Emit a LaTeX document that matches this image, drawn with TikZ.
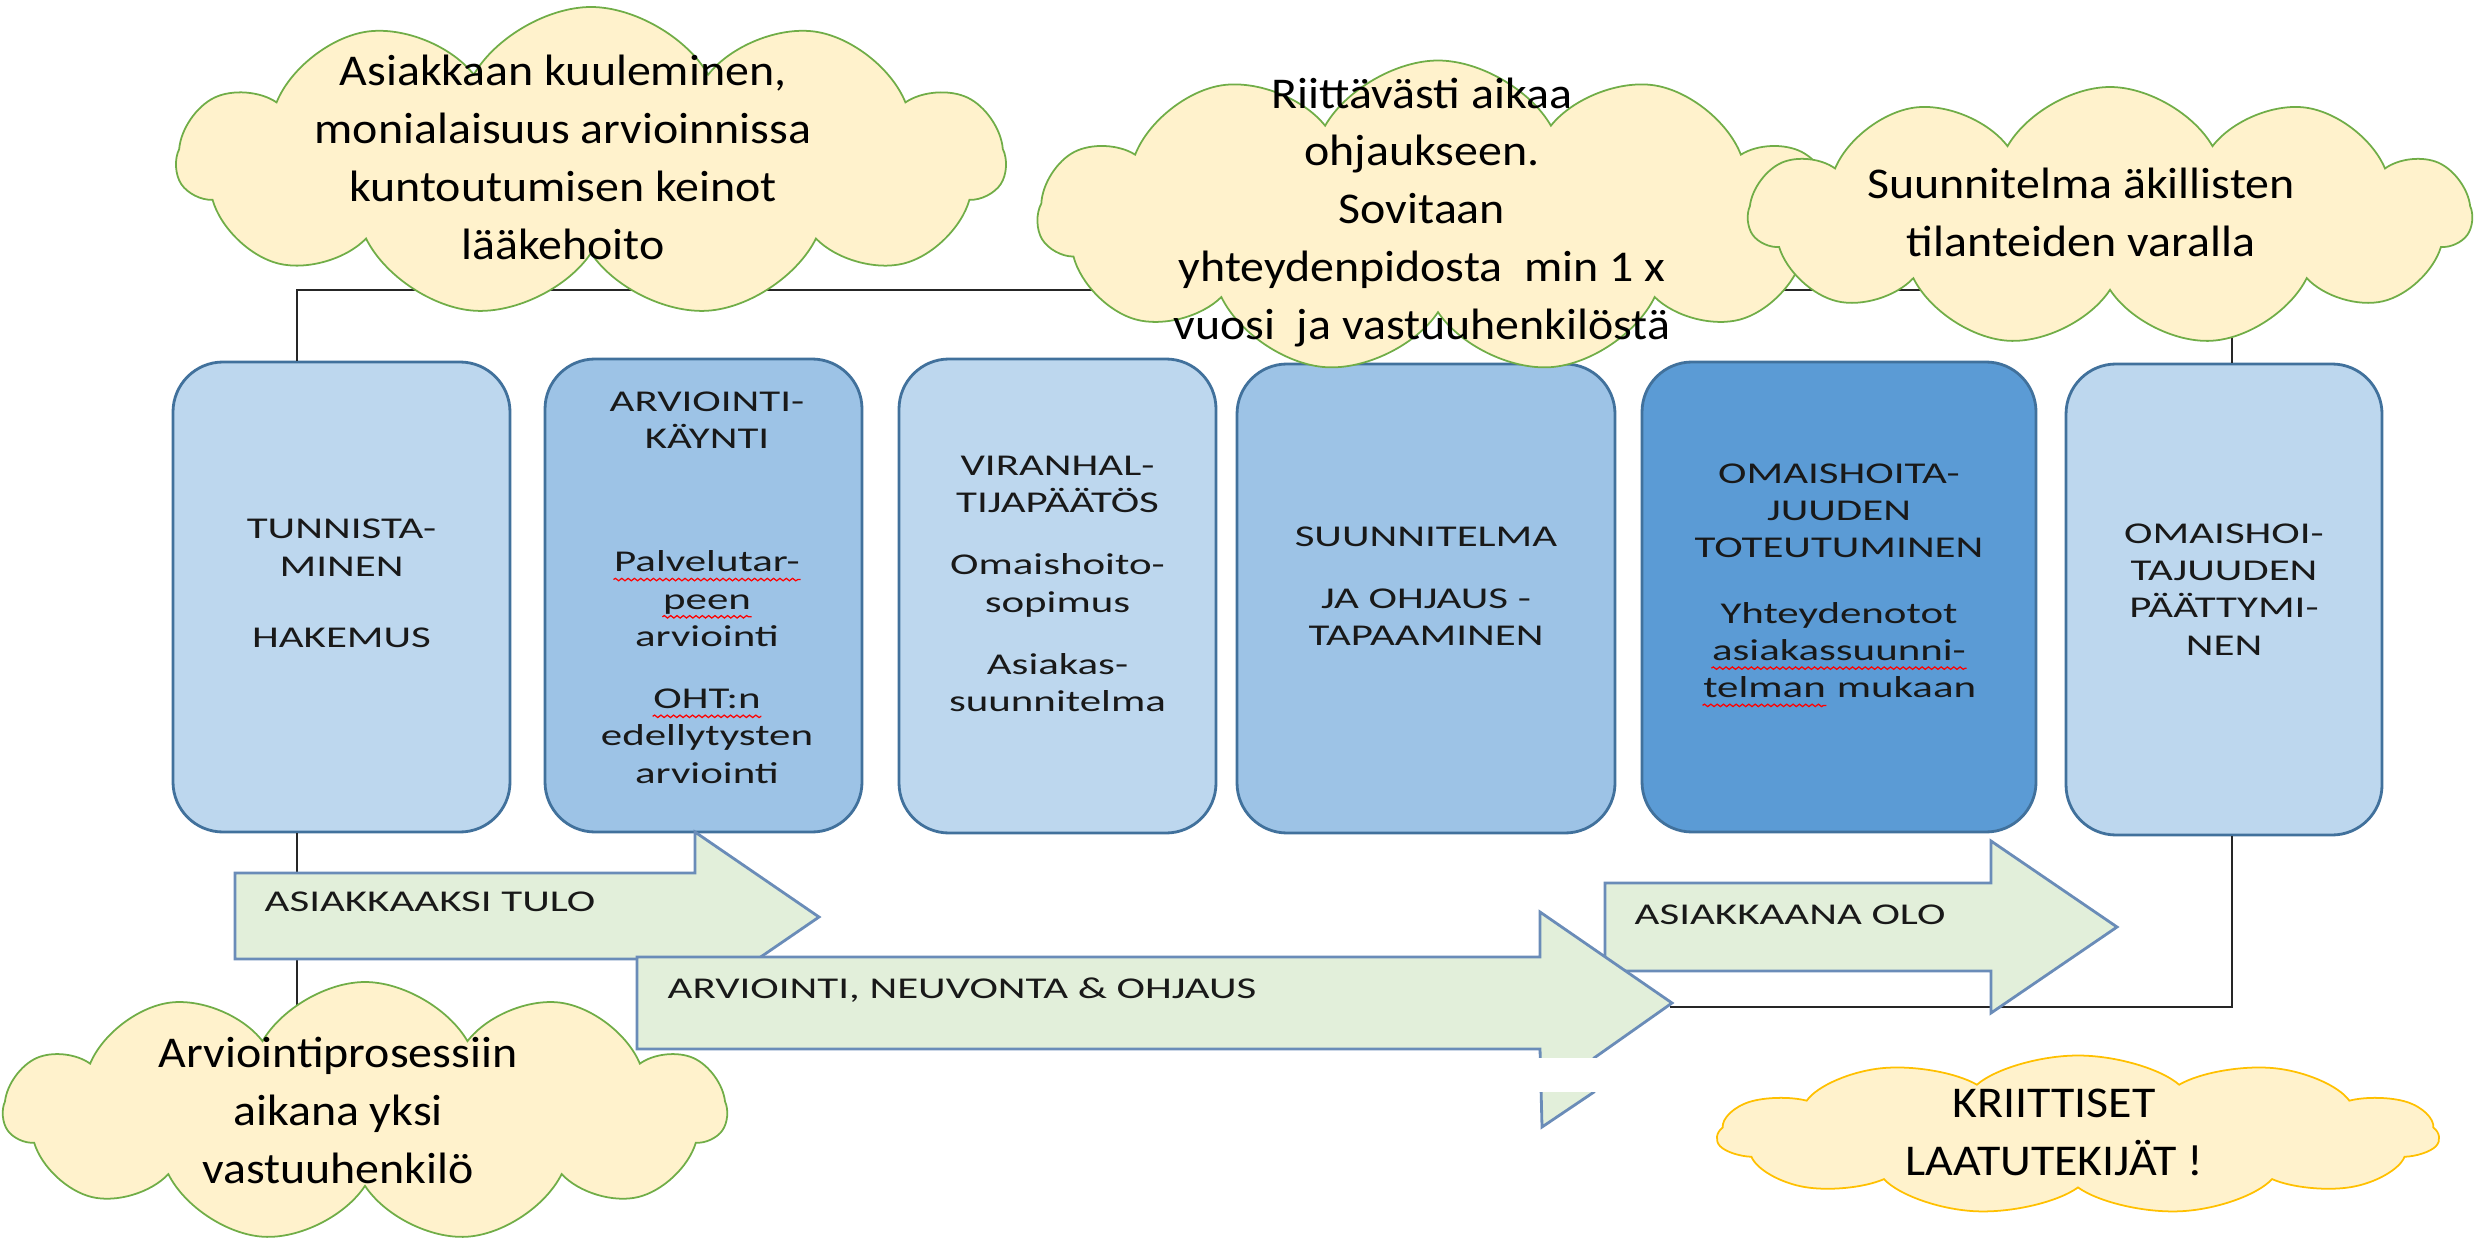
\documentclass[tikz,border=0pt]{standalone}
\usepackage{fontspec}
\setmainfont{Carlito}
\newfontfamily\boxfont[FakeStretch=1.42]{Carlito}
\newfontfamily\cloudfont[FakeStretch=1.09]{Carlito}
\usepackage{tikz}
\usetikzlibrary{shapes.symbols, decorations.pathmorphing}
\usepackage{xcolor}
\definecolor{boxline}{HTML}{41719C}
\definecolor{phaselight}{HTML}{BDD7EE}
\definecolor{phasemid}{HTML}{9DC3E6}
\definecolor{phasedark}{HTML}{5B9BD5}
\definecolor{flowfill}{HTML}{E2EFDA}
\definecolor{flowline}{HTML}{6A8CB8}
\definecolor{bubblefill}{HTML}{FFF2CC}
\definecolor{bubbleline}{HTML}{70AD47}
\definecolor{bubblegold}{HTML}{FFC000}
\definecolor{linkline}{HTML}{262626}
\newcommand{\spellwave}[1]{\tikz[baseline=(w.base), x=1cm, y=1cm]{\node[inner sep=0pt] (w) {#1};
    \draw[red, line width=0.35pt, decorate, decoration={snake, amplitude=0.35pt, segment length=1.8pt}]
        ([yshift=-2.2pt]w.base west) -- ([yshift=-2.2pt]w.base east);}}
\tikzset{
  phase/.style={
    rectangle,
    rounded corners=0.5cm,
    draw=boxline,
    line width=0.8pt,
    inner sep=0pt
    },
  phasetext/.style={
    align=center,
    inner sep=0pt,
    text=black!90,
    font=\boxfont\fontsize{8.6}{10.6}\selectfont
    },
  flow/.style={
    draw=flowline,
    fill=flowfill,
    line width=0.8pt,
    line join=miter
    },
  bubble/.style={
    cloud,
    cloud puffs=11,
    cloud puff arc=120,
    cloud ignores aspect,
    draw=bubbleline,
    fill=bubblefill,
    line width=0.5pt,
    inner sep=0pt
    },
  bubbletext/.style={
    align=center,
    inner sep=0pt,
    font=\cloudfont\fontsize{12.5}{16.5}\selectfont
    },
  link/.style={draw=linkline, line width=0.7pt},
}

\begin{document}
\begin{tikzpicture}[y=-1cm]
    \tikzstyle{flowtext}=[anchor=west, inner sep=0pt, text=black!90, font=\boxfont\fontsize{8.6}{10.6}\selectfont]
    \useasboundingbox (0,0) rectangle (24.86,12.39);

    % Draw the connector lines behind everything
    \coordinate (lt) at (2.97,2.90);
    \coordinate (rt) at (22.32,2.90);
    \coordinate (lb) at (2.97,11.40);
    \coordinate (le) at (6.20,11.88);
    \coordinate (rb) at (22.32,10.07);
    \coordinate (re) at (16.70,10.07);

    % Draw the phase boxes
    \foreach \name / \x / \y / \w / \h / \col in {1/3.415/5.97/3.37/4.70/phaselight,
        2/7.035/5.955/3.17/4.73/phasemid, 3/10.575/5.96/3.17/4.74/phaselight,
        4/14.26/5.985/3.78/4.69/phasemid, 5/18.39/5.97/3.94/4.70/phasedark,
        6/22.24/5.995/3.16/4.71/phaselight}
        \node[phase, fill=\col, minimum width=\w cm, minimum height=\h cm] (b\name) at (\x,\y) {};

    \draw[link] (b1.north -| lt) -- (lt) -- (rt) -- (b6.north -| rt);
    \draw[link] (b1.south -| lt) -- (lb) -| (le);
    \draw[link] (b6.south -| rb) -- (rb) -- (re);

    % Texts of the boxes
    \node[phasetext] (t1) at (3.415,5.835) {TUNNISTA-\\MINEN\\[0.34cm]HAKEMUS};
    \node[phasetext] (t2) at (7.07,5.875) {ARVIOINTI-\\KÄYNTI\\[0.86cm]\spellwave{Palvelutar-}\\\spellwave{peen}\\arviointi\\[0.25cm]\spellwave{OHT:n}\\edellytysten\\arviointi};
    \node[phasetext] (t3) at (10.575,5.84) {VIRANHAL-\\TIJAPÄÄTÖS\\[0.25cm]Omaishoito-\\sopimus\\[0.25cm]Asiakas-\\suunnitelma};
    \node[phasetext] (t4) at (14.26,5.86) {SUUNNITELMA\\[0.25cm]JA OHJAUS -\\TAPAAMINEN};
    \node[phasetext] (t5) at (18.39,5.855) {OMAISHOITA-\\JUUDEN\\TOTEUTUMINEN\\[0.28cm]Yhteydenotot\\\spellwave{asiakassuunni-}\\\spellwave{telman} mukaan};
    \node[phasetext] (t6) at (22.24,5.895) {OMAISHOI-\\TAJUUDEN\\PÄÄTTYMI-\\NEN};

    % Draw the block arrows
    \draw[flow] (16.05,8.83) -- (19.91,8.83) -- (19.91,8.41) -- (21.17,9.27)
        -- (19.91,10.13) -- (19.91,9.71) -- (16.05,9.71) -- cycle;
    \draw[flow] (2.35,8.73) -- (6.95,8.73) -- (6.95,8.32) -- (8.19,9.17)
        -- (6.95,10.02) -- (6.95,9.59) -- (2.35,9.59) -- cycle;
    \draw[flow] (6.37,9.57) -- (15.40,9.57) -- (15.40,9.12) -- (16.72,10.03)
        -- (15.94,10.58) -- (15.94,10.92) -- (15.42,11.27) -- (15.40,10.49)
        -- (6.37,10.49) -- cycle;
    \fill[white] (15.36,10.58) rectangle (16.00,10.92);

    \node[flowtext] (a1) at (2.64,9.02) {ASIAKKAAKSI TULO};
    \node[flowtext] (a2) at (6.67,9.90) {ARVIOINTI, NEUVONTA \& OHJAUS};
    \node[flowtext] (a3) at (16.34,9.15) {ASIAKKAANA OLO};

    % Draw the clouds
    \foreach \name / \x / \y / \w / \h in {1/5.91/1.62/8.28/3.10, 2/14.38/2.17/8.0/3.13,
        3/21.10/2.165/7.22/2.59, 4/3.65/11.12/7.22/2.60}
        \node[bubble, minimum width=\w cm, minimum height=\h cm] (c\name) at (\x,\y) {};
    % the flat one is a normal cloud squeezed to half its height
    \begin{scope}[shift={(20.78,11.35)}, yscale=0.5]
        \node[bubble, draw=bubblegold, transform shape, minimum width=7.23cm, minimum height=3.18cm] (c5) at (0,0) {};
    \end{scope}

    \node[bubbletext] (ct1) at (5.63,1.575) {Asiakkaan kuuleminen,\\monialaisuus arvioinnissa\\kuntoutumisen keinot\\lääkehoito};
    \node[bubbletext] (ct2) at (14.22,2.125) {Riittävästi aikaa\\ohjaukseen.\\Sovitaan\\yhteydenpidosta\ \ min 1 x\\vuosi\ \ ja vastuuhenkilöstä};
    \node[bubbletext] (ct3) at (20.81,2.125) {Suunnitelma äkillisten\\tilanteiden varalla};
    \node[bubbletext] (ct4) at (3.38,11.10) {Arviointiprosessiin\\aikana yksi\\vastuuhenkilö};
    \node[bubbletext] (ct5) at (20.54,11.325) {KRIITTISET\\LAATUTEKIJÄT !};
\end{tikzpicture}
\end{document}
